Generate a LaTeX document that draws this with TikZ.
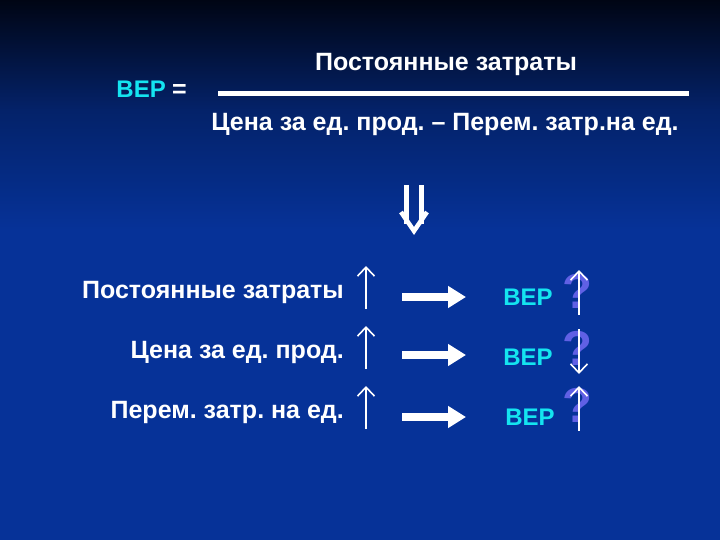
\documentclass[tikz,border=0pt]{standalone}
\usepackage{fontspec}
\setmainfont{Liberation Sans}
\frenchspacing
\usetikzlibrary{arrows.meta}
\definecolor{bgblue}{RGB}{6,50,152}
\definecolor{bgtop}{RGB}{0,5,20}
\definecolor{bgmid}{RGB}{4,34,105}
\definecolor{cyanbep}{RGB}{20,228,240}
\definecolor{qmark}{RGB}{96,96,228}
\tikzset{
  txt/.style={text=white, font=\bfseries\fontsize{25}{25}\selectfont, inner sep=0pt},
  bep/.style={text=cyanbep, font=\bfseries\fontsize{24}{24}\selectfont, inner sep=0pt},
  qm/.style={text=qmark, font=\bfseries\fontsize{49}{49}\selectfont, inner sep=0pt},
  thinarrow/.style={draw=white, line width=1.6pt, -{Straight Barb[length=9pt,width=17pt,line width=1.6pt]}},
  thickarrow/.style={draw=white, line width=8pt, -{Triangle[length=18pt,width=21pt]}},
  fracline/.style={draw=white, line width=5pt},
  dblbar/.style={draw=white, line width=5pt},
  chevron/.style={draw=white, line width=4.5pt, line join=miter}
}
\begin{document}
\begin{tikzpicture}[x=1pt,y=-1pt]
\useasboundingbox (0,0) rectangle (720,540);
% background
\fill[bgblue] (0,0) rectangle (720,540);
\shade[top color=bgtop, bottom color=bgmid] (0,0) rectangle (720,110);
\shade[top color=bgmid, bottom color=bgblue] (0,109.5) rectangle (720,230);

% formula
\node[bep, anchor=base east] (bep0) at (166,98) {BEP};
\node[txt, anchor=base west] (eq) at (172,98) {=};
\node[txt] (num) at (446,64) {Постоянные затраты};
\coordinate (fl) at (218,94);
\coordinate (fr) at (689,94);
\draw[fracline] (fl) -- (fr);
\node[txt] (den) at (445,124) {Цена за ед. прод. – Перем. затр.на ед.};

% implies arrow
\coordinate (dl1) at (406,185); \coordinate (dl2) at (406,224);
\coordinate (dr1) at (421,185); \coordinate (dr2) at (421,224);
\coordinate (cl) at (401,212); \coordinate (ct) at (414,231); \coordinate (cr) at (427,212);
\draw[dblbar] (dl1) -- (dl2);
\draw[dblbar] (dr1) -- (dr2);
\draw[chevron] (cl) -- (ct) -- (cr);

% rows
\node[txt, anchor=east] (l1) at (344,292) {Постоянные затраты};
\node[txt, anchor=east] (l2) at (344,352) {Цена за ед. прод.};
\node[txt, anchor=east] (l3) at (344,412) {Перем. затр. на ед.};

\coordinate (u1a) at (366,309); \coordinate (u1b) at (366,266);
\coordinate (u2a) at (366,369); \coordinate (u2b) at (366,326);
\coordinate (u3a) at (366,429); \coordinate (u3b) at (366,386);
\draw[thinarrow] (u1a) -- (u1b);
\draw[thinarrow] (u2a) -- (u2b);
\draw[thinarrow] (u3a) -- (u3b);

\coordinate (t1a) at (402,297); \coordinate (t1b) at (466,297);
\coordinate (t2a) at (402,355); \coordinate (t2b) at (466,355);
\coordinate (t3a) at (402,417); \coordinate (t3b) at (466,417);
\draw[thickarrow] (t1a) -- (t1b);
\draw[thickarrow] (t2a) -- (t2b);
\draw[thickarrow] (t3a) -- (t3b);

\node[bep] (b1) at (528,297) {BEP};
\node[bep] (b2) at (528,357) {BEP};
\node[bep] (b3) at (530,417) {BEP};

\node[qm] (q1) at (577,291) {?};
\node[qm] (q2) at (577,348) {?};
\node[qm] (q3) at (577,405) {?};

\coordinate (v1a) at (579,315); \coordinate (v1b) at (579,270);
\coordinate (v2a) at (579,329); \coordinate (v2b) at (579,374);
\coordinate (v3a) at (579,431); \coordinate (v3b) at (579,386);
\draw[thinarrow] (v1a) -- (v1b);
\draw[thinarrow] (v2a) -- (v2b);
\draw[thinarrow] (v3a) -- (v3b);
\end{tikzpicture}
\end{document}
